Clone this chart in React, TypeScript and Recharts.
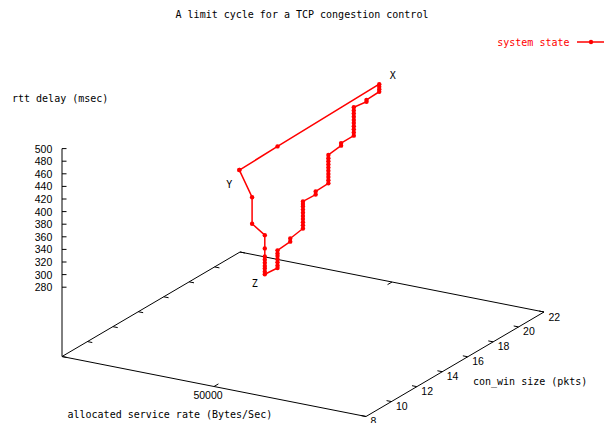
import React from 'react';
import { ScatterChart, Scatter, XAxis, YAxis, ReferenceLine } from 'recharts';

// ---- axis ranges and ticks ----
const RATE_RANGE = [0, 100000];
const CWND_RANGE = [8, 22];
const RTT_RANGE = [280, 500];
const RTT_TICKS = [280, 300, 320, 340, 360, 380, 400, 420, 440, 460, 480, 500];
const CWND_TICKS = [8, 10, 12, 14, 16, 18, 20, 22];
const RATE_TICKS = [50000];

// ---- system state (limit cycle) ----
const SERVICE_RATE = 45800;
const stateCwnd = [
  11, 12, 12, 13, 13, 13, 13, 13, 13, 13, 13, 13,
  14, 14, 14, 14, 14, 14, 14,
  15, 15,
  16, 16, 16, 16, 16, 16, 16, 16, 16, 16,
  17, 17,
  18, 18, 18, 18, 18, 18, 18, 18, 18, 18,
  19, 19,
  20, 20, 20, 20, 20, 20, 20, 20, 20, 20,
  21, 21,
  22, 22, 22, 22,
  14,
];
const stateRtt = [
  474, 419, 377, 347, 326, 313, 308, 303, 298, 294, 289, 285,
  283, 287, 292, 297, 302, 306, 311,
  313, 318,
  322, 327, 332, 337, 342, 347, 352, 357, 361, 365,
  364, 369,
  370, 375, 380, 385, 390, 395, 400, 405, 410, 415,
  418, 422,
  422, 427, 432, 437, 442, 447, 452, 457, 462, 467,
  464, 467,
  468, 472, 476, 480,
  476,
];
const pointLabels = ['X', 'Y', 'Z'];
const pointLabelCwnd = [22, 11, 13];
const pointLabelRtt = [480, 474, 285];

// ---- projection (gnuplot-like orthographic view) ----
const BASE_RTT = RTT_RANGE[0] - 0.5 * (RTT_RANGE[1] - RTT_RANGE[0]);
const VIEW_EX = [304, -60];
const VIEW_EY = [178, 104.5];
const VIEW_EZ = 0.63;

function project(rate: number, cwnd: number, rtt: number) {
  const fx = (rate - RATE_RANGE[0]) / (RATE_RANGE[1] - RATE_RANGE[0]);
  const fy = (cwnd - CWND_RANGE[0]) / (CWND_RANGE[1] - CWND_RANGE[0]);
  return {
    vx: fx * VIEW_EX[0] + fy * VIEW_EY[0],
    vy: fx * VIEW_EX[1] + fy * VIEW_EY[1] + (rtt - BASE_RTT) * VIEW_EZ,
  };
}

const RMIN = RATE_RANGE[0];
const RMAX = RATE_RANGE[1];
const CMIN = CWND_RANGE[0];
const CMAX = CWND_RANGE[1];

const cycle = stateCwnd.map((c, i) => project(SERVICE_RATE, c, stateRtt[i]));
const curveData = [...cycle, cycle[0]];

const frameData = [
  project(RMIN, CMIN, RTT_RANGE[1]),
  project(RMIN, CMIN, BASE_RTT),
  project(RMAX, CMIN, BASE_RTT),
  project(RMAX, CMAX, BASE_RTT),
  project(RMIN, CMAX, BASE_RTT),
  project(RMIN, CMIN, BASE_RTT),
];

const rttLabelData = RTT_TICKS.map((t) => ({ ...project(RMIN, CMIN, t), label: String(t) }));
const cwndLabelData = CWND_TICKS.map((c) => ({ ...project(RMAX, c, BASE_RTT), label: String(c) }));
const rateLabelData = RATE_TICKS.map((r) => ({ ...project(r, CMIN, BASE_RTT), label: String(r) }));
const pointLabelData = pointLabels.map((n, i) => ({
  ...project(SERVICE_RATE, pointLabelCwnd[i], pointLabelRtt[i]),
  label: n,
}));

const POINT_LABEL_OFFSET: Record<string, [number, number]> = {
  X: [13.5, -9],
  Y: [-10, 14],
  Z: [-10, 9],
};

const MONO = '"DejaVu Sans Mono", monospace';
const SANS = '"Liberation Sans", Arial, sans-serif';
const RED = '#ff0000';
const TICK_LEN = 4.5;
const RATE_TICK_FRAC = 0.016;
const CWND_TICK_UNITS = 0.35;

const textShape = (dx: number, dy: number, anchor: string, font: string, size: number, fill = '#000') =>
  (p: any) => (
    <text
      x={p.cx + dx}
      y={p.cy + dy}
      textAnchor={anchor as any}
      dominantBaseline="central"
      fontFamily={font}
      fontSize={size}
      fill={fill}
    >
      {p.payload.label}
    </text>
  );

const pointLabelShape = (p: any) => {
  const [dx, dy] = POINT_LABEL_OFFSET[p.payload.label];
  return (
    <text x={p.cx + dx} y={p.cy + dy} textAnchor="middle" dominantBaseline="central" fontFamily={MONO} fontSize={10} fill="#000">
      {p.payload.label}
    </text>
  );
};

export default function App() {
  const W = 605;
  const H = 423;
  const seg = (a: { vx: number; vy: number }, b: { vx: number; vy: number }) => [
    { x: a.vx, y: a.vy },
    { x: b.vx, y: b.vy },
  ];
  const tickLines: any[] = [];
  RTT_TICKS.forEach((t, i) => {
    const a = project(RMIN, CMIN, t);
    tickLines.push(<ReferenceLine key={'z' + i} segment={seg(a, { vx: a.vx + TICK_LEN, vy: a.vy })} stroke="#000" strokeWidth={1} ifOverflow="visible" />);
  });
  CWND_TICKS.forEach((c, i) => {
    const dr = RATE_TICK_FRAC * (RMAX - RMIN);
    tickLines.push(<ReferenceLine key={'yf' + i} segment={seg(project(RMAX, c, BASE_RTT), project(RMAX - dr, c, BASE_RTT))} stroke="#000" strokeWidth={1} ifOverflow="visible" />);
    tickLines.push(<ReferenceLine key={'yb' + i} segment={seg(project(RMIN, c, BASE_RTT), project(RMIN + dr, c, BASE_RTT))} stroke="#000" strokeWidth={1} ifOverflow="visible" />);
  });
  RATE_TICKS.forEach((r, i) => {
    tickLines.push(<ReferenceLine key={'xf' + i} segment={seg(project(r, CMIN, BASE_RTT), project(r, CMIN + CWND_TICK_UNITS, BASE_RTT))} stroke="#000" strokeWidth={1} ifOverflow="visible" />);
    tickLines.push(<ReferenceLine key={'xb' + i} segment={seg(project(r, CMAX, BASE_RTT), project(r, CMAX - CWND_TICK_UNITS, BASE_RTT))} stroke="#000" strokeWidth={1} ifOverflow="visible" />);
  });

  return (
    <div style={{ position: 'absolute', left: 0, top: 0, width: W, height: H, background: '#fff' }}>
      <ScatterChart width={W} height={H} margin={{ top: 0, right: 0, bottom: 0, left: 0 }}>
        <XAxis type="number" dataKey="vx" domain={[-62, 543]} hide allowDataOverflow />
        <YAxis type="number" dataKey="vy" domain={[-66.5, 356.5]} hide allowDataOverflow />
        <Scatter
          data={frameData}
          fill="#000"
          line={{ stroke: '#000', strokeWidth: 1 }}
          shape={() => <g />}
          isAnimationActive={false}
        />
        {tickLines}
        <Scatter
          data={curveData}
          fill={RED}
          line={{ stroke: RED, strokeWidth: 1.5 }}
          shape={(p: any) => <circle cx={p.cx} cy={p.cy} r={2.2} fill={RED} />}
          isAnimationActive={false}
        />
        <Scatter data={rttLabelData} shape={textShape(-9.7, 0, 'end', SANS, 10.5)} isAnimationActive={false} />
        <Scatter data={cwndLabelData} shape={textShape(4.5, 4.5, 'start', SANS, 10.5)} isAnimationActive={false} />
        <Scatter data={rateLabelData} shape={textShape(-6, 8, 'middle', SANS, 10.5)} isAnimationActive={false} />
        <Scatter data={pointLabelData} shape={pointLabelShape} isAnimationActive={false} />
      </ScatterChart>
      <svg
        width={W}
        height={H}
        style={{ position: 'absolute', left: 0, top: 0, pointerEvents: 'none' }}
      >
        <g fontFamily={MONO} fontSize={10} dominantBaseline="central">
          <text x={302} y={14} textAnchor="middle" fill="#000">A limit cycle for a TCP congestion control</text>
          <text x={12} y={98} textAnchor="start" fill="#000">rtt delay (msec)</text>
          <text x={67.5} y={414} textAnchor="start" fill="#000">allocated service rate (Bytes/Sec)</text>
          <text x={473} y={381} textAnchor="start" fill="#000">con_win size (pkts)</text>
          <text x={569.5} y={42} textAnchor="end" fill={RED}>system state</text>
        </g>
        <line x1={577} y1={42} x2={604} y2={42} stroke={RED} strokeWidth={1.5} />
        <circle cx={591} cy={42} r={2.2} fill={RED} />
      </svg>
    </div>
  );
}
